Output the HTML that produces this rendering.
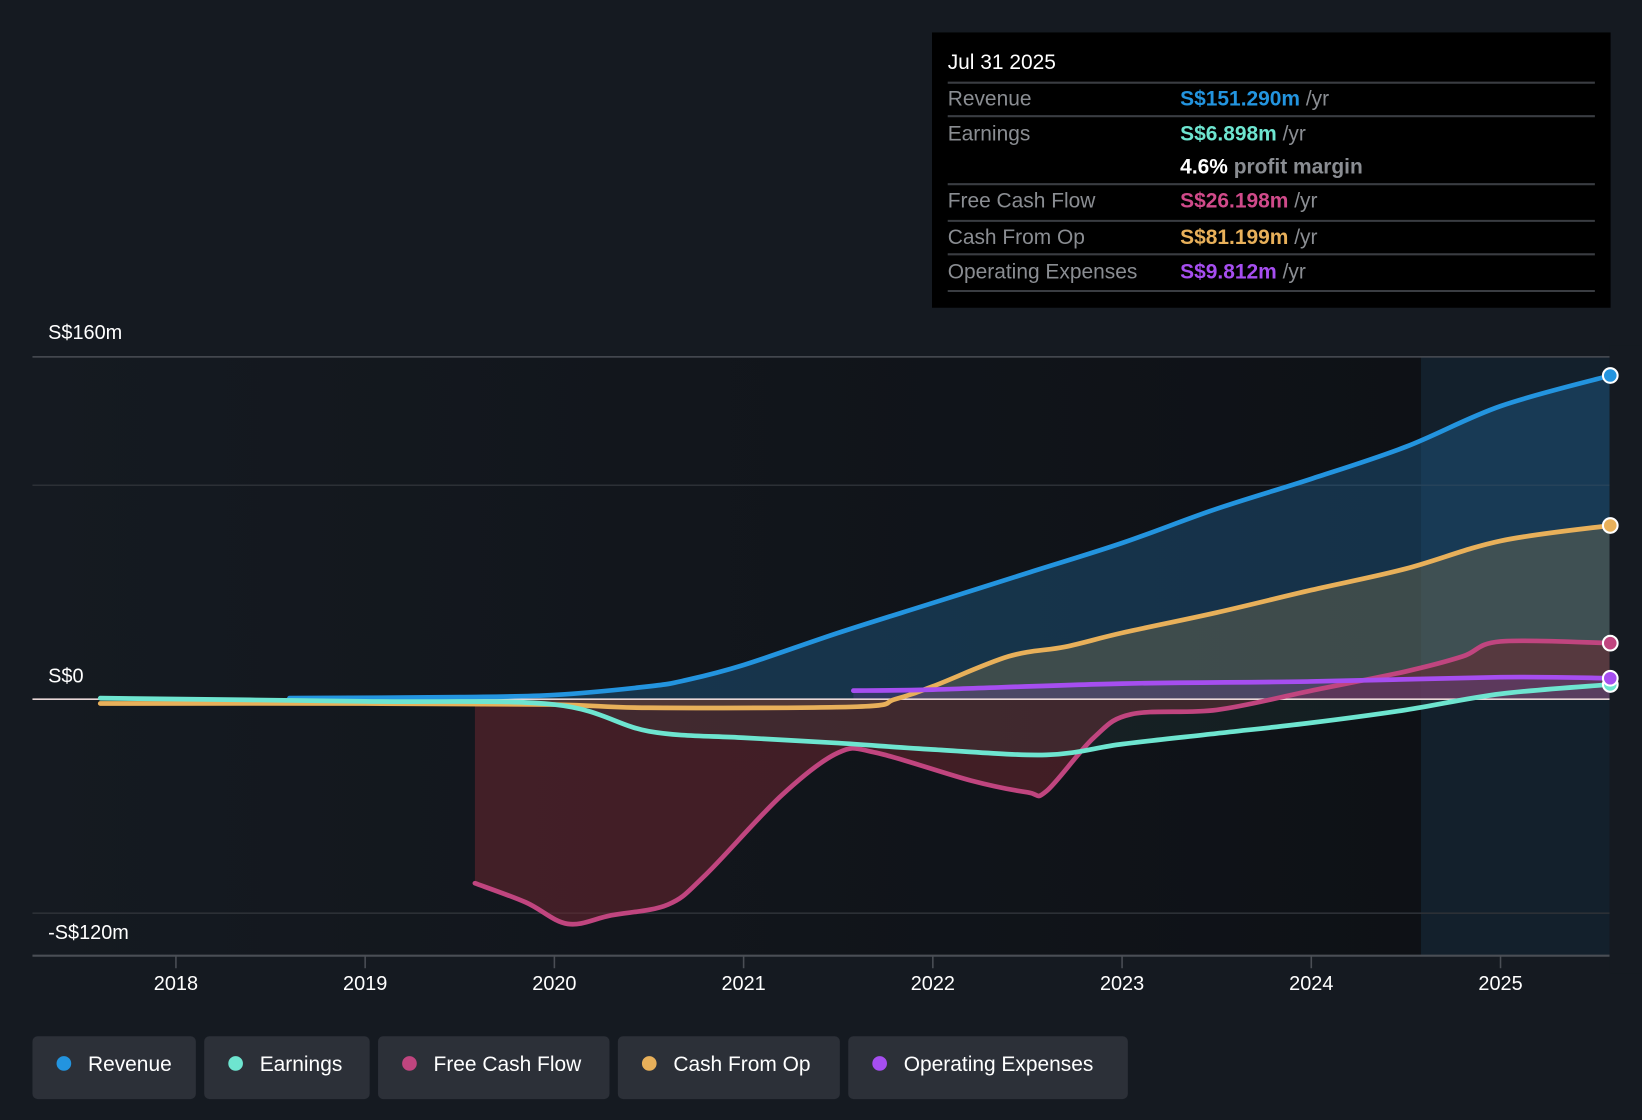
<!DOCTYPE html>
<html><head><meta charset="utf-8"><style>
html,body{margin:0;padding:0;background:#151a21;width:1642px;height:1120px;overflow:hidden}
svg{display:block}
text{font-family:"Liberation Sans",sans-serif}
</style></head><body>
<svg id="chart" width="1642" height="1120" viewBox="0 0 1568 1070" preserveAspectRatio="none" xmlns="http://www.w3.org/2000/svg">
<defs>
<linearGradient id="plotbg" x1="0" x2="1" y1="0" y2="0"><stop offset="0" stop-color="#151a21"/><stop offset="1" stop-color="#0e1116"/></linearGradient>
<linearGradient id="fcRev" x1="0" x2="1" y1="0" y2="0"><stop offset="0" stop-color="#1a4a72" stop-opacity="0.25"/><stop offset="1" stop-color="#1a5a8a" stop-opacity="0.6"/></linearGradient>
</defs>
<rect x="0" y="0" width="1568" height="1070" fill="#151a21"/>
<rect x="31" y="341" width="1326" height="572" fill="url(#plotbg)"/>
<rect x="1357" y="341" width="180" height="572" fill="#13202c"/>
<g id="grid"></g>
<g id="fills"></g>
<g id="lines"></g>
<g id="axes"></g>
<g id="dots"></g>

<g>
<rect x="890" y="31" width="648" height="263" fill="#000"/>
<text x="905" y="66" fill="#fff" font-size="20">Jul 31 2025</text>
<g stroke="#3a3d42" stroke-width="2">
<line x1="905" y1="79" x2="1523" y2="79"/><line x1="905" y1="111" x2="1523" y2="111"/>
<line x1="905" y1="176" x2="1523" y2="176"/><line x1="905" y1="211" x2="1523" y2="211"/>
<line x1="905" y1="243" x2="1523" y2="243"/><line x1="905" y1="278" x2="1523" y2="278"/>
</g>
<g font-size="20" fill="#8a8d92">
<text x="905" y="101">Revenue</text><text x="905" y="134">Earnings</text>
<text x="905" y="198">Free Cash Flow</text><text x="905" y="233">Cash From Op</text>
<text x="905" y="266">Operating Expenses</text>
</g>
<g font-size="20" font-weight="bold">
<text x="1127" y="101"><tspan fill="#2394df">S$151.290m</tspan><tspan fill="#8a8d92" font-weight="normal"> /yr</tspan></text>
<text x="1127" y="134"><tspan fill="#6ee5d0">S$6.898m</tspan><tspan fill="#8a8d92" font-weight="normal"> /yr</tspan></text>
<text x="1127" y="166"><tspan fill="#fff">4.6%</tspan><tspan fill="#8a8d92"> profit margin</tspan></text>
<text x="1127" y="198"><tspan fill="#d04a8a">S$26.198m</tspan><tspan fill="#8a8d92" font-weight="normal"> /yr</tspan></text>
<text x="1127" y="233"><tspan fill="#e8b05a">S$81.199m</tspan><tspan fill="#8a8d92" font-weight="normal"> /yr</tspan></text>
<text x="1127" y="266"><tspan fill="#a64ef0">S$9.812m</tspan><tspan fill="#8a8d92" font-weight="normal"> /yr</tspan></text>
</g>
</g>

<g id="legend" font-size="20" fill="#fff">
<g><rect x="31" y="990" width="156" height="60" rx="5" fill="#2c3038"/><circle cx="61" cy="1016" r="7" fill="#2394df"/><text x="84" y="1023">Revenue</text></g>
<g><rect x="195" y="990" width="158" height="60" rx="5" fill="#2c3038"/><circle cx="225" cy="1016" r="7" fill="#6ee5d0"/><text x="248" y="1023">Earnings</text></g>
<g><rect x="361" y="990" width="221" height="60" rx="5" fill="#2c3038"/><circle cx="391" cy="1016" r="7" fill="#c0457f"/><text x="414" y="1023">Free Cash Flow</text></g>
<g><rect x="590" y="990" width="212" height="60" rx="5" fill="#2c3038"/><circle cx="620" cy="1016" r="7" fill="#e8b05a"/><text x="643" y="1023">Cash From Op</text></g>
<g><rect x="810" y="990" width="267" height="60" rx="5" fill="#2c3038"/><circle cx="840" cy="1016" r="7" fill="#a64ef0"/><text x="863" y="1023">Operating Expenses</text></g>
</g>
</svg>
<script>
const years = [2018,2019,2020,2021,2022,2023,2024,2025];
const yTickLabels = ["S$160m","S$0","-S$120m"];
const revT = [2018.6,2019.5,2020,2020.5,2020.7,2021,2021.5,2022,2022.5,2023,2023.5,2024,2024.5,2025,2025.58];
const revV = [0.5,1,2,6,9,16,31,45,59,73,89,103,118,137,151.3];
const earnT = [2017.6,2019,2020,2020.5,2021,2021.5,2022,2022.6,2023,2023.5,2024,2024.5,2025,2025.58];
const earnV = [0.5,-1,-2.5,-15,-18,-20.5,-23.5,-26,-21,-16,-11,-5,2.5,6.9];
const fcfT = [2019.58,2019.85,2020.07,2020.3,2020.6,2020.8,2021.2,2021.5,2021.7,2022.2,2022.5,2022.6,2022.85,2023.05,2023.5,2024,2024.5,2024.8,2025,2025.58];
const fcfV = [-86,-95,-105,-101,-96,-82,-45,-25,-25,-38,-43.5,-43,-18,-7,-5,4,13,20,27,26.2];
const cfoT = [2017.6,2019,2020,2020.5,2021.6,2021.8,2022,2022.4,2022.7,2023,2023.5,2024,2024.5,2025,2025.58];
const cfoV = [-2,-2,-2.5,-4,-3.5,0,6,20,24.5,31,40.5,51,61,74,81.2];
const opxT = [2021.58,2022,2023,2024,2025,2025.58];
const opxV = [4,4.5,7.3,8.3,10.3,9.8];

const NS="http://www.w3.org/2000/svg";
const xS = t => 168 + (t-2018)*180.7;
const yS = v => 668 - v*2.044;
function mk(tag, attrs, parent){const e=document.createElementNS(NS,tag);for(const k in attrs)e.setAttribute(k,attrs[k]);parent.appendChild(e);return e;}
function pathD(T,V){
  const p=T.map((t,i)=>[xS(t),yS(V[i])]);
  let d=`M${p[0][0]},${p[0][1]}`;
  for(let i=0;i<p.length-1;i++){
    const p0=p[i-1]||p[i],p1=p[i],p2=p[i+1],p3=p[i+2]||p2;
    const c1=[p1[0]+(p2[0]-p0[0])/6,p1[1]+(p2[1]-p0[1])/6];
    const c2=[p2[0]-(p3[0]-p1[0])/6,p2[1]-(p3[1]-p1[1])/6];
    d+=` C${c1[0]},${c1[1]} ${c2[0]},${c2[1]} ${p2[0]},${p2[1]}`;
  }
  return d;
}
const grid=document.getElementById('grid'),fills=document.getElementById('fills'),lines=document.getElementById('lines'),axes=document.getElementById('axes'),dots=document.getElementById('dots');
[160,100,-100].forEach(v=>{const l=mk('line',{x1:31,x2:1537,y1:yS(v),y2:yS(v),stroke:v===160?'#4a4e55':'#2c3036','stroke-width':1.5},grid);

});
const series=[
 {n:'revenue',T:revT,V:revV,c:'#2394df',f:'#1e5a88',o:0.45},
 {n:'cash-from-op',T:cfoT,V:cfoV,c:'#e8b05a',f:'#8a7a50',o:0.35},
 {n:'free-cash-flow',T:fcfT,V:fcfV,c:'#c0457f',f:'#6a2630',o:0.55},
 {n:'earnings',T:earnT,V:earnV,c:'#6ee5d0',f:'#3a6a66',o:0.15},
 {n:'operating-expenses',T:opxT,V:opxV,c:'#a64ef0',f:'#6a3aa0',o:0.3}
];
series.forEach(s=>{
  const d=pathD(s.T,s.V);
  const x0=xS(s.T[0]),x1=xS(s.T[s.T.length-1]);
  const a=mk('path',{d:d+` L${x1},${yS(0)} L${x0},${yS(0)} Z`,fill:s.f,'fill-opacity':s.o},fills);
  
  
});
const zl=mk('line',{x1:31,x2:1537,y1:yS(0),y2:yS(0),stroke:'#e8d6d6','stroke-width':1.5},lines);


series.forEach(s=>{
  const l=mk('path',{d:pathD(s.T,s.V),fill:'none',stroke:s.c,'stroke-width':4.5,'stroke-linecap':'round'},lines);
  
  
  const i=s.T.length-1;
  const c=mk('circle',{cx:xS(s.T[i]),cy:yS(s.V[i]),r:7,fill:s.c,stroke:'#fff','stroke-width':2},dots);
  
  
});
mk('rect',{x:1537,y:330,width:31,height:600,fill:'#151a21'},axes);
const ax=mk('line',{x1:31,x2:1537,y1:913,y2:913,stroke:'#4a4e55','stroke-width':2},axes);


years.forEach(y=>{
  mk('line',{x1:xS(y),x2:xS(y),y1:913,y2:925,stroke:'#4a4e55','stroke-width':1.5},axes);
  const t=mk('text',{x:xS(y),y:946,fill:'#fff','font-size':19,'text-anchor':'middle'},axes);
  t.textContent=y;
  
  
});
[[yTickLabels[0],324],[yTickLabels[1],652],[yTickLabels[2],897]].forEach(([s,y])=>{
  const t=mk('text',{x:46,y:y,fill:'#fff','font-size':19},axes);
  t.textContent=s;
  
  
});
</script>
</body></html>
